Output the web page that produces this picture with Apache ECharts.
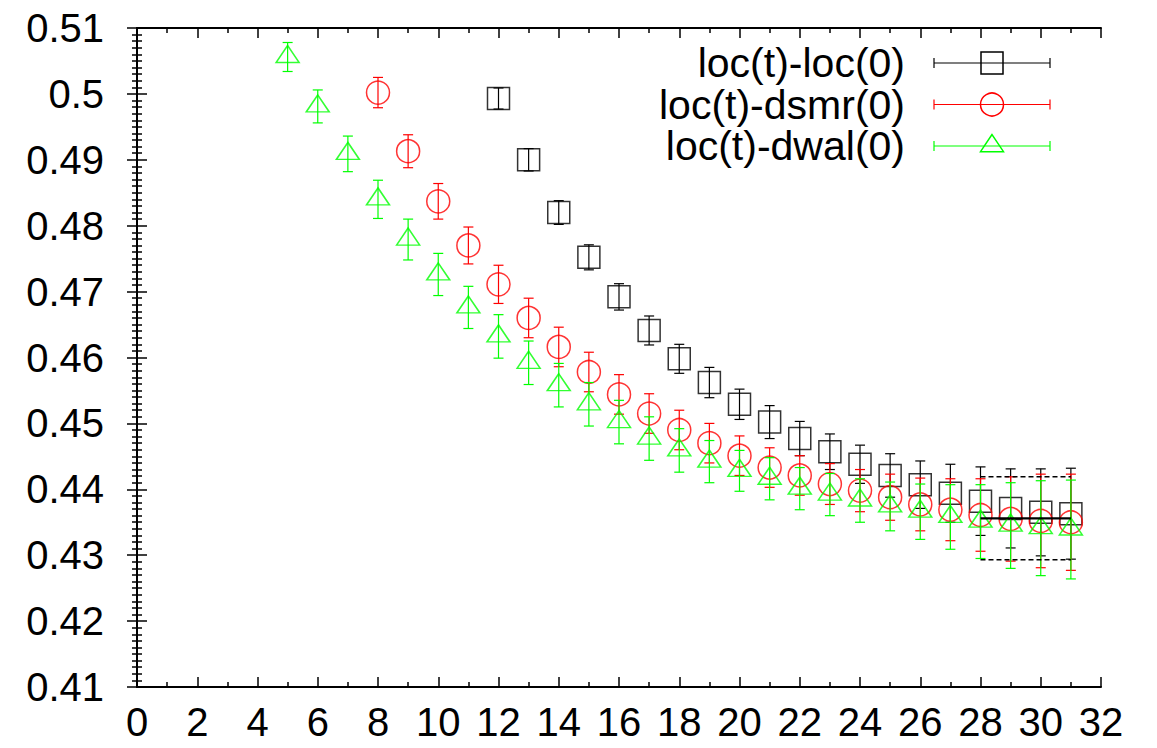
<!DOCTYPE html>
<html>
<head>
<meta charset="utf-8">
<script src="https://cdn.jsdelivr.net/npm/echarts@6/dist/echarts.min.js"></script>
<style>
  html, body { margin: 0; padding: 0; background: #fff; }
  #chart { width: 1157px; height: 748px; }
</style>
</head>
<body>
<div id="chart"></div>
<script>
// Effective mass plateaus: t, value, error for each source/sink combination
const seriesNames = ['loc(t)-loc(0)', 'loc(t)-dsmr(0)', 'loc(t)-dwal(0)'];

const locT = [12, 13, 14, 15, 16, 17, 18, 19, 20, 21, 22, 23, 24, 25, 26, 27, 28, 29, 30, 31];
const locVal = [0.4993, 0.4900, 0.4820, 0.4752, 0.4692, 0.4641, 0.4598, 0.4562, 0.4529, 0.4502,
                0.4477, 0.4457, 0.4438, 0.4421, 0.4407, 0.4394, 0.4382, 0.4371, 0.4365, 0.4363];
const locErr = [0.0016, 0.0017, 0.0018, 0.0019, 0.0020, 0.0022, 0.0022, 0.0023, 0.0023, 0.0025,
                0.0026, 0.0027, 0.0029, 0.0033, 0.0036, 0.0044, 0.0052, 0.0060, 0.0066, 0.0069];

const dsmrT = [8, 9, 10, 11, 12, 13, 14, 15, 16, 17, 18, 19, 20, 21, 22, 23, 24, 25, 26, 27, 28, 29, 30, 31];
const dsmrVal = [0.5002, 0.4913, 0.4837, 0.4770, 0.4711, 0.4660, 0.4616, 0.4578, 0.4544, 0.4515,
                 0.4490, 0.4470, 0.4451, 0.4433, 0.4421, 0.4408, 0.4398, 0.4388, 0.4377, 0.4369,
                 0.4361, 0.4355, 0.4352, 0.4350];
const dsmrErr = [0.0023, 0.0025, 0.0027, 0.0028, 0.0029, 0.0030, 0.0030, 0.0030, 0.0030, 0.0030,
                 0.0030, 0.0030, 0.0030, 0.0030, 0.0030, 0.0031, 0.0032, 0.0035, 0.0040, 0.0047,
                 0.0055, 0.0064, 0.0071, 0.0073];

const dwalT = [5, 6, 7, 8, 9, 10, 11, 12, 13, 14, 15, 16, 17, 18, 19, 20, 21, 22, 23, 24, 25, 26, 27, 28, 29, 30, 31];
const dwalVal = [0.5056, 0.4981, 0.4909, 0.4840, 0.4779, 0.4726, 0.4676, 0.4632, 0.4592, 0.4558,
                 0.4529, 0.4502, 0.4477, 0.4459, 0.4442, 0.4428, 0.4416, 0.4401, 0.4392, 0.4383,
                 0.4374, 0.4366, 0.4358, 0.4351, 0.4345, 0.4341, 0.4339];
const dwalErr = [0.0022, 0.0025, 0.0027, 0.0029, 0.0031, 0.0032, 0.0032, 0.0033, 0.0033, 0.0033,
                 0.0033, 0.0033, 0.0033, 0.0033, 0.0032, 0.0031, 0.0032, 0.0032, 0.0032, 0.0033,
                 0.0037, 0.0042, 0.0049, 0.0056, 0.0065, 0.0072, 0.0075];

// Constant fit over the plateau window
const fitRange = [28, 31];
const fitValue = 0.4356;
const fitError = 0.0063;

const xTicks = [0, 32, 2];
const yTicks = [0.41, 0.51, 0.01];

const COLORS = ['#000000', '#ff0000', '#00ff00'];
const FONT = '"Liberation Sans", Arial, Helvetica, sans-serif';

function rows(t, v, e) { return t.map((x, i) => [x, v[i], e[i]]); }

function errorBarItem(params, api) {
  const x = api.value(0), y = api.value(1), e = api.value(2);
  const hi = api.coord([x, y + e]);
  const lo = api.coord([x, y - e]);
  const cap = 5;
  const style = { stroke: api.visual('color'), lineWidth: 1.2, fill: null };
  return {
    type: 'group',
    children: [
      { type: 'line', shape: { x1: hi[0], y1: hi[1], x2: lo[0], y2: lo[1] }, style },
      { type: 'line', shape: { x1: hi[0] - cap, y1: hi[1], x2: hi[0] + cap, y2: hi[1] }, style },
      { type: 'line', shape: { x1: lo[0] - cap, y1: lo[1], x2: lo[0] + cap, y2: lo[1] }, style }
    ]
  };
}

function fitItem(params, api) {
  const x0 = api.value(0), x1 = api.value(1), y = api.value(2), e = api.value(3);
  const a = api.coord([x0, y]), b = api.coord([x1, y]);
  const t0 = api.coord([x0, y + e]), t1 = api.coord([x1, y + e]);
  const b0 = api.coord([x0, y - e]), b1 = api.coord([x1, y - e]);
  const dashed = { stroke: '#000', lineWidth: 1.5, lineDash: [5, 3], fill: null };
  return {
    type: 'group',
    children: [
      { type: 'line', shape: { x1: a[0], y1: a[1], x2: b[0], y2: b[1] }, style: { stroke: '#000', lineWidth: 2.2 } },
      { type: 'line', shape: { x1: t0[0], y1: t0[1], x2: t1[0], y2: t1[1] }, style: dashed },
      { type: 'line', shape: { x1: b0[0], y1: b0[1], x2: b1[0], y2: b1[1] }, style: dashed }
    ]
  };
}

const datasets = [rows(locT, locVal, locErr), rows(dsmrT, dsmrVal, dsmrErr), rows(dwalT, dwalVal, dwalErr)];
const markers = [
  { symbol: 'rect', size: 22, offset: [0, 0] },
  { symbol: 'circle', size: 23, offset: [0, 0] },
  { symbol: 'triangle', size: [23, 17], offset: [0, -3] }
];

const series = [];
datasets.forEach((d, i) => {
  series.push({
    name: seriesNames[i],
    type: 'custom',
    renderItem: errorBarItem,
    data: d,
    itemStyle: { color: COLORS[i] },
    encode: { x: 0, y: [1, 2] },
    z: 2 + i * 2,
    silent: true
  });
  series.push({
    name: seriesNames[i],
    type: 'scatter',
    data: d.map(r => [r[0], r[1]]),
    symbol: markers[i].symbol,
    symbolSize: markers[i].size,
    symbolOffset: markers[i].offset,
    itemStyle: { color: 'rgba(0,0,0,0)', borderColor: COLORS[i], borderWidth: 1.5 },
    z: 3 + i * 2,
    silent: true
  });
});
series.push({
  type: 'custom',
  renderItem: fitItem,
  data: [[fitRange[0], fitRange[1], fitValue, fitError]],
  encode: { x: [0, 1], y: 2 },
  z: 10,
  silent: true
});

// Key in the upper right: right-aligned names, error-bar sample with marker
const legendGraphics = [];
const keyTextRight = 905, keyX0 = 934, keyX1 = 1050, keyMid = 992, keyY0 = 63, keyDy = 41.5;
seriesNames.forEach((name, i) => {
  const y = keyY0 + i * keyDy;
  const c = COLORS[i];
  legendGraphics.push({
    type: 'text', x: keyTextRight, y: y,
    style: { text: name, font: '41px ' + FONT, lineHeight: 38, fill: '#000', align: 'right', verticalAlign: 'middle' }
  });
  const ls = { stroke: c, lineWidth: 1.2 };
  legendGraphics.push({ type: 'line', shape: { x1: keyX0, y1: y, x2: keyX1, y2: y }, style: ls });
  legendGraphics.push({ type: 'line', shape: { x1: keyX0, y1: y - 5, x2: keyX0, y2: y + 5 }, style: ls });
  legendGraphics.push({ type: 'line', shape: { x1: keyX1, y1: y - 5, x2: keyX1, y2: y + 5 }, style: ls });
  const ms = { stroke: c, lineWidth: 1.5, fill: 'rgba(0,0,0,0)' };
  if (i === 0) legendGraphics.push({ type: 'rect', shape: { x: keyMid - 11, y: y - 11, width: 22, height: 22 }, style: ms });
  if (i === 1) legendGraphics.push({ type: 'circle', shape: { cx: keyMid, cy: y, r: 11.5 }, style: ms });
  if (i === 2) legendGraphics.push({ type: 'polygon', shape: { points: [[keyMid, y - 11.5], [keyMid - 11.5, y + 5.7], [keyMid + 11.5, y + 5.7]] }, style: ms });
});

const axisLine = { show: true, lineStyle: { color: '#000', width: 2 } };
const labelStyle = { color: '#000', fontSize: 40, fontFamily: FONT };

const option = {
  animation: false,
  backgroundColor: '#fff',
  grid: { left: 137, right: 56, top: 28, bottom: 61, containLabel: false },
  xAxis: [
    {
      type: 'value', min: xTicks[0], max: xTicks[1], interval: xTicks[2],
      axisLine, splitLine: { show: false },
      axisTick: { show: true, inside: true, length: 10, lineStyle: { color: '#000', width: 1.5 } },
      minorTick: { show: true, splitNumber: 2, length: 5, lineStyle: { color: '#000', width: 1.5 } },
      axisLabel: Object.assign({ margin: 15 }, labelStyle)
    },
    {
      type: 'value', position: 'top', min: xTicks[0], max: xTicks[1], interval: xTicks[2],
      axisLine, splitLine: { show: false },
      axisTick: { show: true, inside: true, length: 10, lineStyle: { color: '#000', width: 1.5 } },
      minorTick: { show: true, splitNumber: 2, length: 5, lineStyle: { color: '#000', width: 1.5 } },
      axisLabel: { show: false }
    }
  ],
  yAxis: [
    {
      type: 'value', min: yTicks[0], max: yTicks[1], interval: yTicks[2],
      axisLine, splitLine: { show: false },
      axisTick: { show: true, inside: true, length: 10, lineStyle: { color: '#000', width: 1.5 } },
      minorTick: { show: true, splitNumber: 10, length: 5, lineStyle: { color: '#000', width: 1.5 } },
      axisLabel: Object.assign({ margin: 33, formatter: v => String(+v.toFixed(2)) }, labelStyle)
    },
    {
      type: 'value', position: 'right', min: yTicks[0], max: yTicks[1], interval: yTicks[2],
      axisLine, splitLine: { show: false },
      axisTick: { show: true, inside: true, length: 10, lineStyle: { color: '#000', width: 1.5 } },
      minorTick: { show: true, splitNumber: 10, length: 5, lineStyle: { color: '#000', width: 1.5 } },
      axisLabel: { show: false }
    }
  ],
  graphic: legendGraphics,
  series
};

const chart = echarts.init(document.getElementById('chart'), null, { renderer: 'svg' });
chart.setOption(option);
</script>
</body>
</html>
